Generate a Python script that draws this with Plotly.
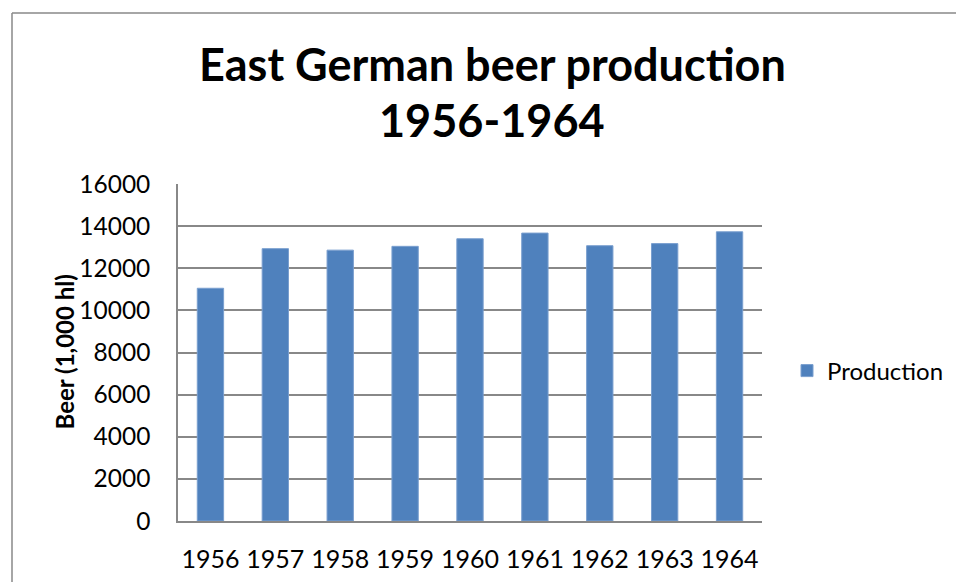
import plotly.graph_objects as go

years = ["1956", "1957", "1958", "1959", "1960", "1961", "1962", "1963", "1964"]
production = [11050, 12930, 12860, 13040, 13400, 13670, 13070, 13170, 13730]
y_ticks = [0, 2000, 4000, 6000, 8000, 10000, 12000, 14000, 16000]

title_line1 = "East German beer production"
title_line2 = "1956-1964"
y_title = "Beer (1,000 hl)"
series_name = "Production"

W, H = 956, 582
L, R, T, B = 178, 194, 184, 61
PW, PH = W - L - R, H - T - B


def px_x(px):
    return (px - L) / PW


def px_y(py):
    return (H - B - py) / PH


GRID = "#888888"
FONT = "Lato"
TICK_SIZE = 25

fig = go.Figure()
fig.add_trace(go.Bar(
    x=years, y=production, name=series_name,
    marker=dict(color="#4F81BD", line=dict(color="#7A9FCF", width=1)),
    showlegend=True,
))

fig.update_layout(
    width=W, height=H,
    margin=dict(l=L, r=R, t=T, b=B, pad=0, autoexpand=False),
    paper_bgcolor="white", plot_bgcolor="white",
    bargap=0.594,
    font=dict(family=FONT, size=TICK_SIZE, color="black"),
    showlegend=True,
    legend=dict(x=px_x(787), y=px_y(371), xanchor="left", yanchor="middle",
                font=dict(family=FONT, size=24, color="black"),
                bgcolor="rgba(0,0,0,0)"),
    xaxis=dict(
        type="category", showgrid=False, showline=True, linecolor=GRID, linewidth=1.5,
        ticks="", tickfont=dict(family=FONT, size=TICK_SIZE, color="black"),
        ticklabelstandoff=15,
    ),
    yaxis=dict(
        range=[0, 16000], tickvals=y_ticks, tickformat="d",
        showgrid=True, gridcolor=GRID, gridwidth=1.5,
        showline=True, linecolor=GRID, linewidth=1.5, zeroline=False,
        ticks="", tickfont=dict(family=FONT, size=24.5, color="black"),
        ticklabelstandoff=21,
    ),
    annotations=[
        dict(text="<b>" + title_line1 + "</b>", xref="paper", yref="paper",
             x=px_x(492), y=px_y(64), xanchor="center", yanchor="middle",
             showarrow=False, font=dict(family=FONT, size=45, color="black")),
        dict(text="<b>" + title_line2 + "</b>", xref="paper", yref="paper",
             x=px_x(492), y=px_y(120), xanchor="center", yanchor="middle",
             showarrow=False, font=dict(family=FONT, size=45, color="black")),
        dict(text="<b>" + y_title + "</b>", xref="paper", yref="paper",
             x=px_x(64), y=0.5, xanchor="center", yanchor="middle", textangle=-90,
             showarrow=False, font=dict(family=FONT, size=24, color="black")),
    ],
    shapes=[
        dict(type="line", xref="paper", yref="paper",
             x0=px_x(12), x1=px_x(12), y0=px_y(13), y1=px_y(600),
             line=dict(color=GRID, width=1.5)),
        dict(type="line", xref="paper", yref="paper",
             x0=px_x(12), x1=px_x(970), y0=px_y(13), y1=px_y(13),
             line=dict(color=GRID, width=1.5)),
    ],
)

fig.write_html(
    "out.html",
    config={"displayModeBar": False},
    post_script="document.body.style.margin='0';document.body.style.overflow='hidden';",
)
